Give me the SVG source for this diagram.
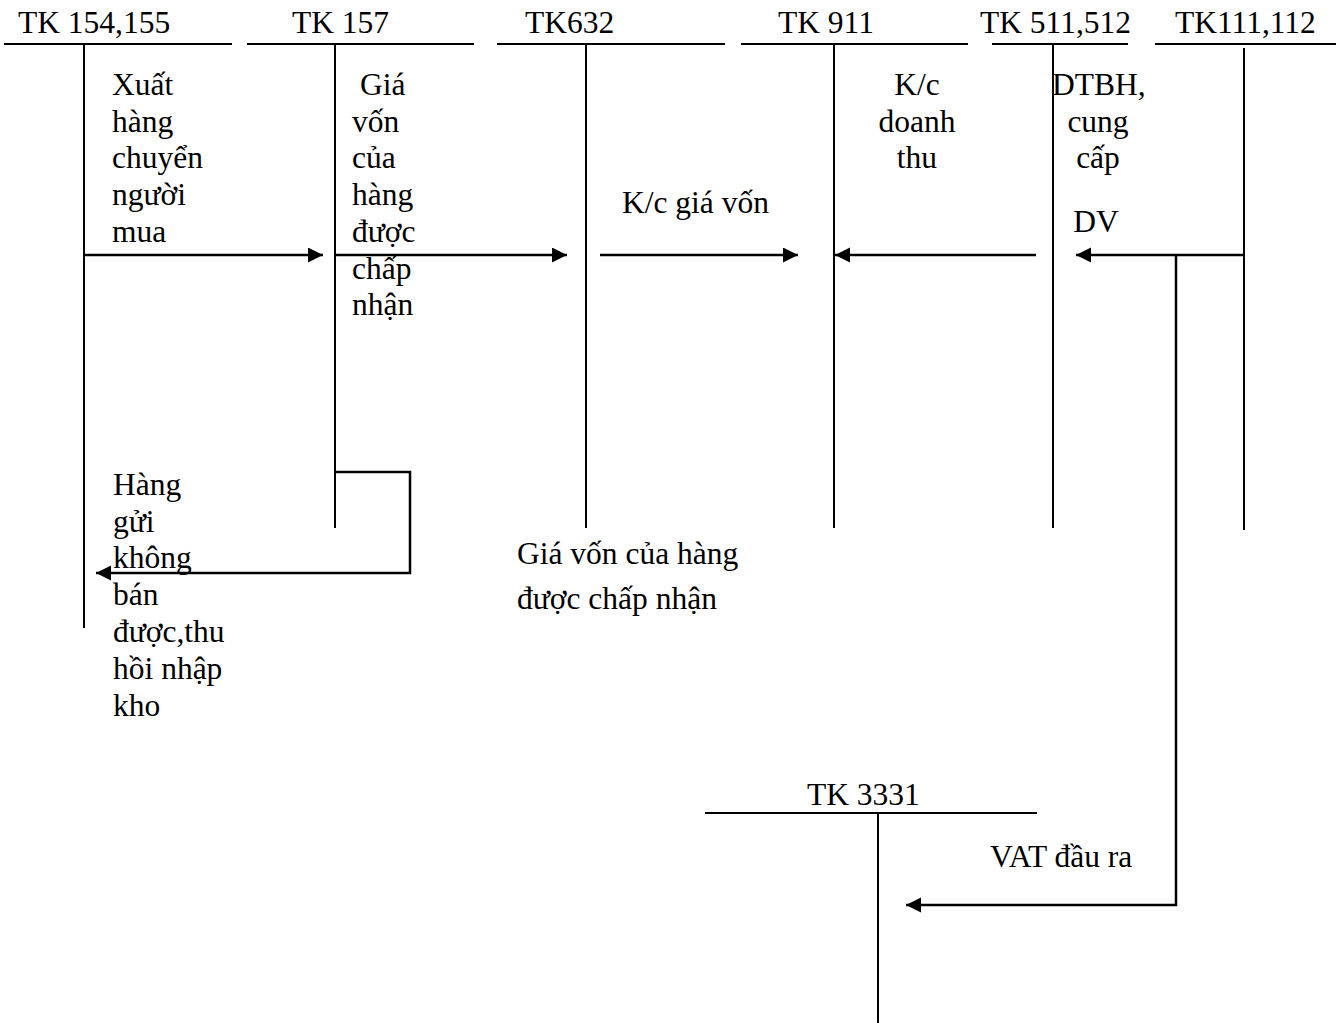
<svg xmlns="http://www.w3.org/2000/svg" width="1341" height="1023" viewBox="0 0 1341 1023">
<style>
text{font-family:"Liberation Serif","Times New Roman",serif;font-size:31.5px;fill:#000}
.m{text-anchor:middle}
.ln{stroke:#000;stroke-width:2;fill:none}
.ar{stroke:#000;stroke-width:2.5;fill:none;marker-end:url(#ah)}
</style>
<defs>
<marker id="ah" markerUnits="userSpaceOnUse" markerWidth="16" markerHeight="16" refX="15" refY="7.5" orient="auto">
<path d="M0,0 L15,7.5 L0,15 z" fill="#000"/>
</marker>
</defs>
<rect width="1341" height="1023" fill="#fff"/>
<g id="tk154">
<text x="18" y="33">TK 154,155</text>
<line class="ln" x1="4" y1="44" x2="232" y2="44"/>
<line class="ln" x1="84" y1="44" x2="84" y2="628"/>
</g>
<g id="tk157">
<text x="292" y="33">TK 157</text>
<line class="ln" x1="247" y1="44" x2="474" y2="44"/>
<line class="ln" x1="335" y1="44" x2="335" y2="528"/>
</g>
<g id="tk632">
<text x="525" y="33">TK632</text>
<line class="ln" x1="497" y1="44" x2="725" y2="44"/>
<line class="ln" x1="586" y1="44" x2="586" y2="528"/>
</g>
<g id="tk911">
<text x="778" y="33">TK 911</text>
<line class="ln" x1="741" y1="44" x2="968" y2="44"/>
<line class="ln" x1="834" y1="44" x2="834" y2="528"/>
</g>
<g id="tk511">
<text x="980" y="33">TK 511,512</text>
<line class="ln" x1="992" y1="44" x2="1128" y2="44"/>
<line class="ln" x1="1053" y1="44" x2="1053" y2="528"/>
</g>
<g id="tk111">
<text x="1175" y="33">TK111,112</text>
<line class="ln" x1="1155" y1="44" x2="1336" y2="44"/>
<line class="ln" x1="1244" y1="48" x2="1244" y2="530"/>
</g>
<g id="tk3331">
<text x="807" y="805">TK 3331</text>
<line class="ln" x1="705" y1="813" x2="1037" y2="813"/>
<line class="ln" x1="878" y1="813" x2="878" y2="1023"/>
</g>
<g id="connectors">
<path class="ar" d="M84,255 H323"/>
<path class="ar" d="M335,255 H567"/>
<path class="ar" d="M600,255 H798"/>
<path class="ar" d="M1036,255 H835"/>
<path class="ar" d="M1244,255 H1076"/>
<path class="ar" d="M1176,255 V905 H906"/>
<path class="ar" d="M335,472 H410 V573 H96"/>
</g>
<g id="labels">
<text x="112" y="95">Xuất</text>
<text x="112" y="132">hàng</text>
<text x="112" y="168">chuyển</text>
<text x="112" y="205">người</text>
<text x="112" y="242">mua</text>
<text x="360" y="95">Giá</text>
<text x="352" y="132">vốn</text>
<text x="352" y="168">của</text>
<text x="352" y="205">hàng</text>
<text x="352" y="242">được</text>
<text x="352" y="279">chấp</text>
<text x="352" y="315">nhận</text>
<text x="622" y="213">K/c giá vốn</text>
<text class="m" x="917" y="95">K/c</text>
<text class="m" x="917" y="132">doanh</text>
<text class="m" x="917" y="168">thu</text>
<text x="1052" y="95">DTBH,</text>
<text class="m" x="1098" y="132">cung</text>
<text class="m" x="1098" y="168">cấp</text>
<text class="m" x="1096" y="232">DV</text>
<text x="113" y="495">Hàng</text>
<text x="113" y="532">gửi</text>
<text x="113" y="568">không</text>
<text x="113" y="605">bán</text>
<text x="113" y="642">được,thu</text>
<text x="113" y="679">hồi nhập</text>
<text x="113" y="716">kho</text>
<text x="517" y="564">Giá vốn của hàng</text>
<text x="517" y="609">được chấp nhận</text>
<text x="990" y="867">VAT đầu ra</text>
</g>
</svg>
